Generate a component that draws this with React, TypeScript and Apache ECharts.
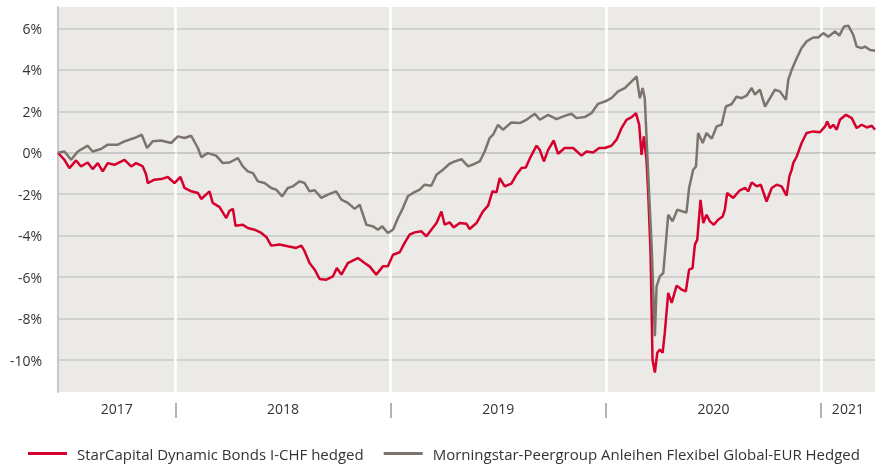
import React, { useEffect, useRef } from "react";
import * as echarts from "echarts";

// time in decimal years, values in %
const redT = [2017.454, 2017.484, 2017.507, 2017.538, 2017.561, 2017.592, 2017.615, 2017.639, 2017.662, 2017.685, 2017.716, 2017.763, 2017.794, 2017.817, 2017.848, 2017.864, 2017.871, 2017.902, 2017.933, 2017.964, 2017.995, 2018.023, 2018.042, 2018.073, 2018.104, 2018.12, 2018.158, 2018.173, 2018.205, 2018.236, 2018.251, 2018.267, 2018.279, 2018.313, 2018.336, 2018.367, 2018.399, 2018.422, 2018.445, 2018.484, 2018.522, 2018.561, 2018.585, 2018.6, 2018.623, 2018.647, 2018.67, 2018.701, 2018.732, 2018.75, 2018.771, 2018.801, 2018.833, 2018.848, 2018.879, 2018.902, 2018.933, 2018.964, 2018.987, 2019.011, 2019.042, 2019.065, 2019.088, 2019.112, 2019.143, 2019.166, 2019.189, 2019.213, 2019.236, 2019.251, 2019.274, 2019.293, 2019.321, 2019.352, 2019.367, 2019.399, 2019.429, 2019.453, 2019.473, 2019.492, 2019.507, 2019.53, 2019.561, 2019.585, 2019.608, 2019.628, 2019.65, 2019.678, 2019.693, 2019.712, 2019.732, 2019.758, 2019.778, 2019.809, 2019.848, 2019.887, 2019.91, 2019.941, 2019.969, 2019.995, 2020.026, 2020.05, 2020.073, 2020.096, 2020.12, 2020.14, 2020.155, 2020.166, 2020.177, 2020.189, 2020.197, 2020.208, 2020.217, 2020.228, 2020.239, 2020.251, 2020.264, 2020.274, 2020.29, 2020.306, 2020.329, 2020.352, 2020.372, 2020.387, 2020.403, 2020.414, 2020.425, 2020.44, 2020.453, 2020.468, 2020.484, 2020.502, 2020.522, 2020.543, 2020.553, 2020.564, 2020.592, 2020.623, 2020.647, 2020.662, 2020.678, 2020.701, 2020.72, 2020.747, 2020.771, 2020.794, 2020.817, 2020.84, 2020.853, 2020.864, 2020.871, 2020.887, 2020.91, 2020.933, 2020.964, 2020.995, 2021.019, 2021.029, 2021.042, 2021.057, 2021.073, 2021.088, 2021.116, 2021.143, 2021.166, 2021.189, 2021.213, 2021.236, 2021.251];
const redV = [0, -0.34, -0.74, -0.37, -0.66, -0.47, -0.79, -0.5, -0.9, -0.5, -0.58, -0.34, -0.66, -0.5, -0.66, -1.06, -1.46, -1.3, -1.27, -1.17, -1.46, -1.17, -1.7, -1.86, -1.94, -2.23, -1.86, -2.42, -2.62, -3.15, -2.8, -2.71, -3.52, -3.47, -3.63, -3.71, -3.87, -4.06, -4.48, -4.43, -4.51, -4.59, -4.48, -4.75, -5.32, -5.64, -6.09, -6.12, -5.96, -5.56, -5.88, -5.32, -5.16, -5.08, -5.32, -5.48, -5.88, -5.48, -5.48, -4.92, -4.8, -4.35, -3.95, -3.84, -3.79, -4.03, -3.71, -3.39, -2.83, -3.47, -3.36, -3.6, -3.39, -3.42, -3.68, -3.39, -2.83, -2.55, -1.86, -1.91, -1.22, -1.62, -1.49, -1.06, -0.74, -0.71, -0.21, 0.34, 0.14, -0.42, 0.14, 0.59, -0.05, 0.23, 0.23, -0.14, 0.06, 0.01, 0.23, 0.23, 0.34, 0.63, 1.19, 1.59, 1.72, 1.91, 1.35, -0.1, 0.79, -0.34, -1.94, -4.83, -9.98, -10.6, -9.65, -9.49, -9.65, -8.69, -6.76, -7.24, -6.41, -6.6, -6.68, -5.64, -5.56, -4.43, -4.19, -2.27, -3.39, -2.99, -3.31, -3.47, -3.23, -3.07, -2.75, -1.94, -2.18, -1.81, -1.7, -1.86, -1.43, -1.62, -1.54, -2.35, -1.7, -1.54, -1.62, -2.07, -1.14, -0.82, -0.5, -0.18, 0.47, 0.95, 1.03, 0.99, 1.27, 1.51, 1.19, 1.35, 1.11, 1.59, 1.83, 1.67, 1.19, 1.35, 1.22, 1.3, 1.11];

const grayT = [2017.454, 2017.484, 2017.515, 2017.546, 2017.592, 2017.615, 2017.654, 2017.685, 2017.732, 2017.763, 2017.809, 2017.843, 2017.868, 2017.894, 2017.933, 2017.98, 2018.011, 2018.042, 2018.073, 2018.104, 2018.12, 2018.15, 2018.189, 2018.22, 2018.251, 2018.29, 2018.313, 2018.336, 2018.36, 2018.383, 2018.414, 2018.445, 2018.468, 2018.496, 2018.522, 2018.546, 2018.577, 2018.6, 2018.623, 2018.647, 2018.678, 2018.708, 2018.747, 2018.771, 2018.801, 2018.833, 2018.856, 2018.887, 2018.918, 2018.941, 2018.961, 2018.987, 2019.011, 2019.034, 2019.057, 2019.08, 2019.104, 2019.135, 2019.158, 2019.189, 2019.213, 2019.243, 2019.274, 2019.298, 2019.329, 2019.36, 2019.391, 2019.414, 2019.437, 2019.46, 2019.476, 2019.499, 2019.522, 2019.561, 2019.6, 2019.631, 2019.67, 2019.693, 2019.732, 2019.771, 2019.809, 2019.84, 2019.864, 2019.902, 2019.933, 2019.964, 2019.995, 2020.026, 2020.057, 2020.088, 2020.12, 2020.143, 2020.158, 2020.171, 2020.181, 2020.189, 2020.201, 2020.213, 2020.228, 2020.236, 2020.251, 2020.267, 2020.279, 2020.29, 2020.31, 2020.332, 2020.357, 2020.375, 2020.387, 2020.406, 2020.419, 2020.429, 2020.45, 2020.468, 2020.492, 2020.515, 2020.538, 2020.558, 2020.585, 2020.608, 2020.631, 2020.654, 2020.678, 2020.693, 2020.716, 2020.74, 2020.763, 2020.786, 2020.809, 2020.837, 2020.848, 2020.864, 2020.887, 2020.91, 2020.933, 2020.964, 2020.987, 2021.011, 2021.034, 2021.065, 2021.085, 2021.107, 2021.127, 2021.15, 2021.166, 2021.189, 2021.205, 2021.228, 2021.251];
const grayV = [0, 0.06, -0.34, 0.06, 0.34, 0.06, 0.18, 0.39, 0.39, 0.55, 0.71, 0.87, 0.23, 0.55, 0.59, 0.47, 0.79, 0.71, 0.82, 0.23, -0.21, -0.02, -0.14, -0.5, -0.47, -0.26, -0.66, -0.9, -0.98, -1.38, -1.46, -1.7, -1.78, -2.1, -1.7, -1.62, -1.38, -1.46, -1.86, -1.81, -2.18, -2.02, -1.86, -2.26, -2.42, -2.71, -2.5, -3.47, -3.55, -3.71, -3.55, -3.87, -3.71, -3.15, -2.67, -2.1, -1.94, -1.78, -1.54, -1.59, -1.06, -0.82, -0.53, -0.42, -0.31, -0.66, -0.53, -0.42, 0.06, 0.71, 0.87, 1.35, 1.11, 1.46, 1.43, 1.59, 1.88, 1.59, 1.83, 1.62, 1.78, 1.88, 1.67, 1.72, 1.91, 2.36, 2.47, 2.63, 2.96, 3.12, 3.44, 3.68, 2.63, 3.12, 2.63, 0.79, -1.94, -4.51, -8.85, -6.44, -5.96, -5.8, -4.35, -2.99, -3.31, -2.75, -2.83, -2.88, -1.7, -0.82, -0.66, 0.95, 0.47, 0.95, 0.68, 1.27, 1.35, 2.23, 2.35, 2.71, 2.63, 2.75, 3.12, 2.8, 3.04, 2.23, 2.63, 3.04, 2.96, 2.55, 3.52, 4, 4.56, 5.05, 5.37, 5.56, 5.56, 5.77, 5.6, 5.85, 5.65, 6.09, 6.13, 5.69, 5.12, 5.05, 5.12, 4.96, 4.92];

const seriesNames = ["StarCapital Dynamic Bonds I-CHF hedged", "Morningstar-Peergroup Anleihen Flexibel Global-EUR Hedged"];
const yTicks = [-10, -8, -6, -4, -2, 0, 2, 4, 6];
const yearStarts = [2018, 2019, 2020, 2021];
const yearLabelPos = [2017.727, 2018.5, 2019.5, 2020.5, 2021.125];
const X_MIN = 2017.454;
const X_MAX = 2021.251;
const Y_MIN = -11.54;
const Y_MAX = 7.03;

const FONT = "Open Sans";

export default function App() {
  const ref = useRef<HTMLDivElement>(null);
  useEffect(() => {
    if (!ref.current) return;
    const chart = echarts.init(ref.current, null, { renderer: "svg" });
    chart.setOption({
      animation: false,
      grid: {
        left: 58,
        right: 7,
        top: 7,
        bottom: 75,
        show: true,
        backgroundColor: "#ebeae7",
        borderWidth: 0,
      },
      legend: {
        left: 23,
        top: 441,
        icon: "rect",
        itemWidth: 39,
        itemHeight: 3,
        itemGap: 20,
        textStyle: { fontFamily: FONT, fontSize: 15, color: "#333", padding: [0, 0, 0, 5] },
        data: seriesNames,
      },
      xAxis: [
        {
          type: "value",
          min: X_MIN,
          max: X_MAX,
          z: 1,
          axisLine: { show: true, lineStyle: { color: "#c8c8c8", width: 2 } },
          axisTick: { show: true, customValues: yearStarts, length: 5, lineStyle: { color: "#ffffff", width: 2 } },
          splitLine: { show: true, lineStyle: { color: "#ffffff", width: 2.5 } },
          axisLabel: {
            customValues: yearLabelPos,
            formatter: (v: number) => String(Math.floor(v)),
            margin: 9,
            color: "#333",
            fontSize: 14,
            fontFamily: FONT,
          },
        },
        {
          type: "value",
          min: X_MIN,
          max: X_MAX,
          position: "bottom",
          offset: 11,
          axisLine: { show: false },
          axisTick: { show: true, customValues: yearStarts, length: 15, lineStyle: { color: "#9a9a9a", width: 1.5 } },
          splitLine: { show: false },
          axisLabel: { show: false },
        },
      ],
      yAxis: {
        type: "value",
        min: Y_MIN,
        max: Y_MAX,
        z: 0,
        axisLine: { show: true, lineStyle: { color: "#c8c8c8", width: 2 } },
        axisTick: { show: false, customValues: yTicks },
        splitLine: { show: true, lineStyle: { color: "#c8c8c8", width: 1.5 } },
        axisLabel: {
          customValues: yTicks,
          formatter: (v: number) => v + "%",
          margin: 16,
          color: "#333",
          fontSize: 14,
          fontFamily: FONT,
        },
      },
      series: [
        {
          name: seriesNames[0],
          type: "line",
          xAxisIndex: 0,
          data: redT.map((t, i) => [t, redV[i]]),
          symbol: "none",
          color: "#d5002d",
          lineStyle: { color: "#d5002d", width: 2.5 },
        },
        {
          name: seriesNames[1],
          type: "line",
          xAxisIndex: 0,
          data: grayT.map((t, i) => [t, grayV[i]]),
          symbol: "none",
          color: "#7c746d",
          lineStyle: { color: "#7c746d", width: 2.5 },
        },
      ],
    });
    return () => chart.dispose();
  }, []);
  return <div ref={ref} style={{ position: "fixed", left: 0, top: 0, width: 882, height: 467 }} />;
}
